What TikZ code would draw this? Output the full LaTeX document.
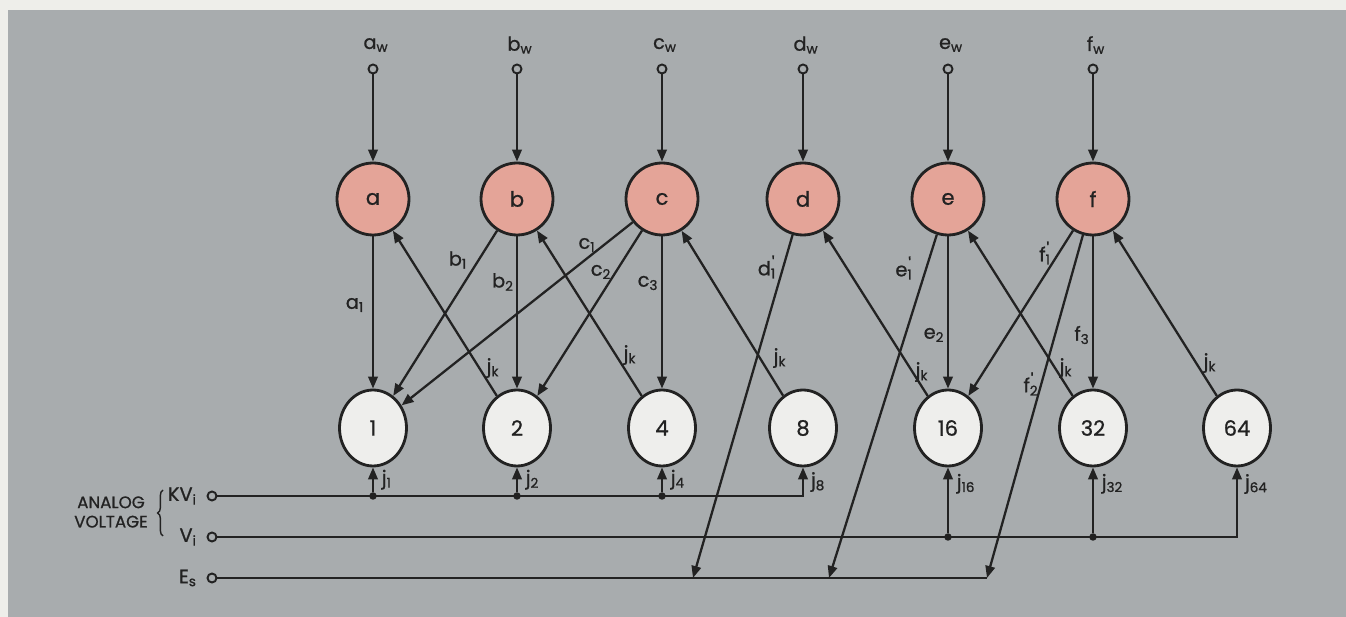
\documentclass[tikz,border=0pt]{standalone}
\usepackage{fontspec}
\setmainfont{Poppins}[FakeBold=0.9]
\usetikzlibrary{arrows.meta,shapes.geometric,decorations.pathreplacing}
\definecolor{papier}{RGB}{238,238,234}
\definecolor{grund}{RGB}{168,172,174}
\definecolor{rosa}{RGB}{228,164,152}
\definecolor{hell}{RGB}{238,238,236}
\definecolor{tinte}{RGB}{34,34,34}
\newcommand{\ix}[2]{#1\textsubscript{#2}}
\newcommand{\ixs}[2]{#1\rlap{\raisebox{0.55ex}{\fontsize{10}{10}\selectfont\kern0.5pt\textquotesingle}}\textsubscript{#2}}
\begin{document}
\begin{tikzpicture}[x=0.02cm,y=-0.02cm,
  every node/.style={font=\fontsize{11}{13}\selectfont,text=tinte},
  gewicht/.style={ellipse,draw=tinte,line width=1.6pt,fill=rosa,minimum width=1.44cm,minimum height=1.44cm,inner sep=0pt,font=\fontsize{12}{14}\selectfont},
  stufe/.style={ellipse,draw=tinte,line width=1.6pt,fill=hell,minimum width=1.34cm,minimum height=1.52cm,inner sep=0pt,font=\fontsize{12}{14}\selectfont},
  anschluss/.style={circle,draw=tinte,line width=1.1pt,fill=grund,minimum size=0.18cm,inner sep=0pt},
  punkt/.style={circle,fill=tinte,minimum size=0.15cm,inner sep=0pt},
  leitung/.style={draw=tinte,line width=1.3pt},
  pfeil/.style={leitung,-{Triangle[length=2.4mm,width=1.9mm]}}]
\useasboundingbox (0,0) rectangle (1346,617);
% Papier und grauer Grund
\fill[papier] (0,0) rectangle (1346,617);
\fill[grund] (8,10) rectangle (1346,617);
% Gewichtsknoten a bis f
\node[gewicht] (a) at (373,199) {a};
\node[gewicht] (b) at (517,199) {b};
\node[gewicht] (c) at (662,199) {c};
\node[gewicht] (d) at (803,199) {d};
\node[gewicht] (e) at (948,199) {e};
\node[gewicht] (f) at (1093,199) {f};
% Stufen 1 bis 64
\node[stufe] (n1) at (373,428) {1};
\node[stufe] (n2) at (517,428) {2};
\node[stufe] (n4) at (662,428) {4};
\node[stufe] (n8) at (803,428) {8};
\node[stufe] (n16) at (948,428) {16};
\node[stufe] (n32) at (1093,428) {32};
\node[stufe] (n64) at (1237,428) {64};
% Eingaenge oben
\node[anschluss] (aw) at (373,69) {};
\node[anschluss] (bw) at (517,69) {};
\node[anschluss] (cw) at (662,69) {};
\node[anschluss] (dw) at (803,69) {};
\node[anschluss] (ew) at (948,69) {};
\node[anschluss] (fw) at (1093,69) {};
\node at (376,45) {\ix{a}{w}};
\node at (520,45) {\ix{b}{w}};
\node at (665,45) {\ix{c}{w}};
\node at (806,45) {\ix{d}{w}};
\node at (951,45) {\ix{e}{w}};
\node at (1096,45) {\ix{f}{w}};
\draw[pfeil] (aw) -- (a);
\draw[pfeil] (bw) -- (b);
\draw[pfeil] (cw) -- (c);
\draw[pfeil] (dw) -- (d);
\draw[pfeil] (ew) -- (e);
\draw[pfeil] (fw) -- (f);
% Verbindungen nach unten
\draw[pfeil] (a) -- (n1);
\draw[pfeil] (b) -- (n1);
\draw[pfeil] (b) -- (n2);
\draw[pfeil] (c) -- (n1);
\draw[pfeil] (c) -- (n2);
\draw[pfeil] (c) -- (n4);
\draw[pfeil] (e) -- (n16);
\draw[pfeil] (f) -- (n16);
\draw[pfeil] (f) -- (n32);
% Rueckfuehrungen j_k
\draw[pfeil] (n2) -- (a);
\draw[pfeil] (n4) -- (b);
\draw[pfeil] (n8) -- (c);
\draw[pfeil] (n16) -- (d);
\draw[pfeil] (n32) -- (e);
\draw[pfeil] (n64) -- (f);
% Beschriftungen der Verbindungen
\node at (355,305) {\ix{a}{1}};
\node at (458,260) {\ix{b}{1}};
\node at (503,282) {\ix{b}{2}};
\node at (587,245) {\ix{c}{1}};
\node at (601,272) {\ix{c}{2}};
\node at (648,283) {\ix{c}{3}};
\node at (767,267) {\ixs{d}{1}};
\node at (904,268) {\ixs{e}{1}};
\node at (934,335) {\ix{e}{2}};
\node at (1045,253) {\ixs{f}{1}};
\node at (1082,335) {\ix{f}{3}};
\node at (1031,384) {\ixs{f}{2}};
\node at (493,368) {\ix{j}{k}};
\node at (630,355) {\ix{j}{k}};
\node at (780,358) {\ix{j}{k}};
\node at (922,372) {\ix{j}{k}};
\node at (1066,368) {\ix{j}{k}};
\node at (1210,363) {\ix{j}{k}};
% Analoge Eingaenge links
\node[anschluss] (pkv) at (212,496) {};
\node[anschluss] (pv) at (212,537) {};
\node[anschluss] (pes) at (212,578) {};
\node[left=2pt] at (pkv.west) {\ix{KV}{i}};
\node[left=2pt] at (pv.west) {\ix{V}{i}};
\node[left=2pt] at (pes.west) {\ix{E}{s}};
\draw[leitung,line width=0.8pt,decorate,decoration={brace,amplitude=3pt}] (163,536) -- (163,490);
\node[align=center,font=\fontsize{9.5}{11}\selectfont] at (111,512) {ANALOG\\VOLTAGE};
% Leitung KV_i
\draw[pfeil] (pkv) -| (n8);
\node[right=1pt] at (803,482) {\ix{j}{8}};
\node[punkt] (k1) at (n1 |- pkv) {};
\node[punkt] (k2) at (n2 |- pkv) {};
\node[punkt] (k4) at (n4 |- pkv) {};
\draw[pfeil] (k1) -- (n1) node[midway,right=1pt] {\ix{j}{1}};
\draw[pfeil] (k2) -- (n2) node[midway,right=1pt] {\ix{j}{2}};
\draw[pfeil] (k4) -- (n4) node[midway,right=1pt] {\ix{j}{4}};
% Leitung V_i
\draw[pfeil] (pv) -| (n64);
\node[right=1pt] at (1237,484) {\ix{j}{64}};
\node[punkt] (k16) at (n16 |- pv) {};
\node[punkt] (k32) at (n32 |- pv) {};
\draw[pfeil] (k16) -- (n16) node[pos=0.75,right=1pt] {\ix{j}{16}};
\draw[pfeil] (k32) -- (n32) node[pos=0.75,right=1pt] {\ix{j}{32}};
% Leitung E_s mit den Abzweigen d', e', f'
\coordinate (sd) at (693,578);
\coordinate (se) at (829,578);
\coordinate (sf) at (987,578);
\draw[leitung] (pes) -- (sf);
\draw[pfeil] (d) -- (sd);
\draw[pfeil] (e) -- (se);
\draw[pfeil] (f) -- (sf);
\end{tikzpicture}
\end{document}
